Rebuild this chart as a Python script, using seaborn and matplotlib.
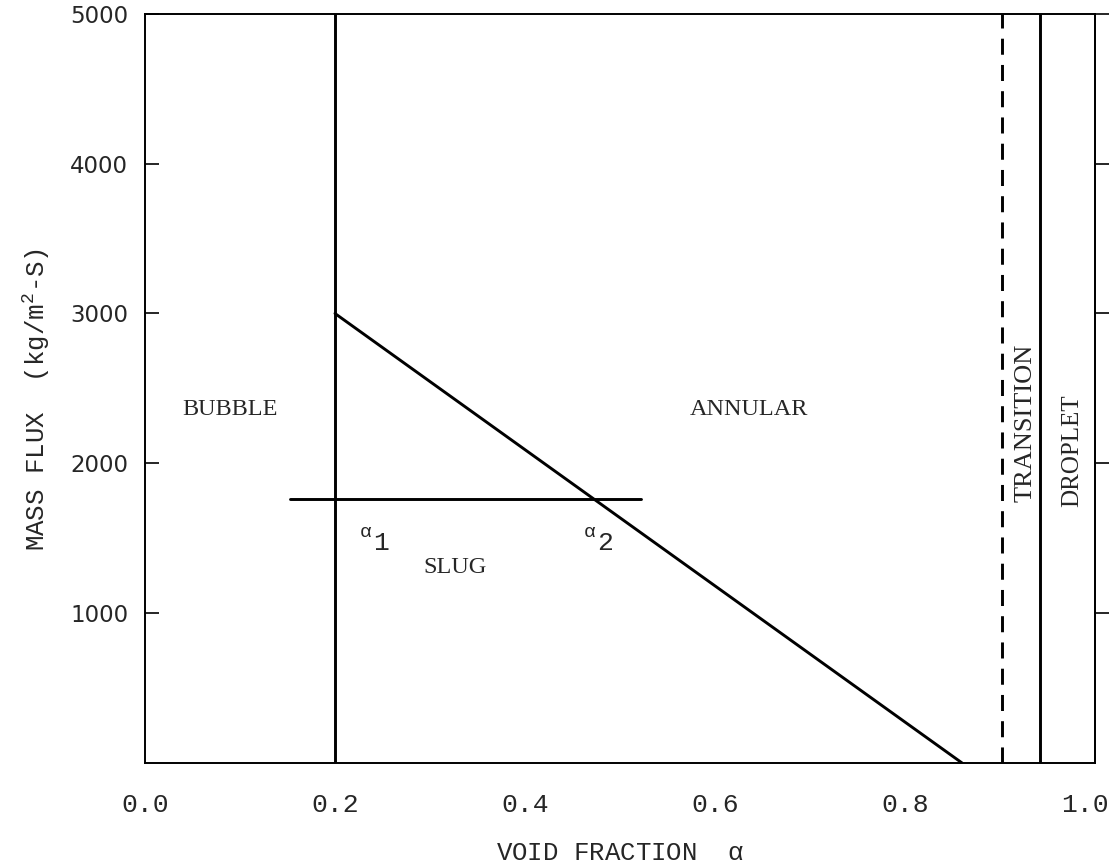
import pandas as pd
import matplotlib
matplotlib.use("Agg")
import matplotlib.pyplot as plt
import matplotlib.transforms as mtransforms
import seaborn as sns

# flow regime map boundaries
slug_annular_x = [0.20, 0.86]
slug_annular_y = [3000, 0]
alpha_line_x = [0.153, 0.522]
alpha_line_y = [1760, 1760]
bubble_slug_x = 0.20
transition_x = 0.902
droplet_x = 0.942

x_ticks = [0.0, 0.2, 0.4, 0.6, 0.8, 1.0]
x_ticklabels = ["0.0", "0.2", "0.4", "0.6", "0.8", "1.0"]
y_ticks = [1000, 2000, 3000, 4000, 5000]
y_ticklabels = ["1000", "2000", "3000", "4000", "5000"]

regions = ["BUBBLE", "ANNULAR", "SLUG"]
region_x = [0.090, 0.636, 0.326]
region_y = [2360, 2360, 1307]

sns.set_style("white")
plt.rcParams["mathtext.fontset"] = "custom"
plt.rcParams["mathtext.rm"] = "Liberation Mono"
plt.rcParams["mathtext.it"] = "Liberation Mono"

fig, ax = plt.subplots(figsize=(11.11, 8.65), dpi=100)
fig.subplots_adjust(left=0.1305, right=0.9856, top=0.984, bottom=0.118)

lw = 2.1
df_diag = pd.DataFrame({"x": slug_annular_x, "y": slug_annular_y})
sns.lineplot(data=df_diag, x="x", y="y", ax=ax, color="black", lw=lw)
df_h = pd.DataFrame({"x": alpha_line_x, "y": alpha_line_y})
sns.lineplot(data=df_h, x="x", y="y", ax=ax, color="black", lw=lw)

ax.axvline(bubble_slug_x, color="black", lw=lw)
ax.axvline(transition_x, color="black", lw=lw, dashes=(5.5, 3.5))
ax.axvline(droplet_x, color="black", lw=lw)

ax.set_xlim(0, 1)
ax.set_ylim(0, 5000)

for s in ax.spines.values():
    s.set_color("black")
    s.set_linewidth(1.4)

# ticks
ax.set_xticks(x_ticks)
ax.set_xticklabels(x_ticklabels, family="Liberation Mono", fontsize=19)
ax.set_xticks([0.8], minor=True)
ax.tick_params(axis="x", which="major", length=0, pad=22)
ax.tick_params(axis="x", which="minor", direction="in", length=8, width=1.3, bottom=True)
last = ax.get_xticklabels()[-1]
last.set_transform(last.get_transform() + mtransforms.ScaledTranslation(-0.1, 0, fig.dpi_scale_trans))

ax.set_yticks(y_ticks)
ax.set_yticklabels(y_ticklabels, family="DejaVu Sans", fontsize=16.5)
ax.tick_params(axis="y", direction="in", length=10, width=1.4, left=True, pad=12)

sec = ax.secondary_yaxis("right")
sec.set_yticks(y_ticks)
sec.tick_params(direction="out", length=10, width=1.4, labelright=False)
sec.spines["right"].set_linewidth(1.4)

ax.set_xlabel(r"VOID FRACTION  $\alpha$", family="Liberation Mono", fontsize=18.5, labelpad=17)
ax.set_ylabel(r"MASS FLUX  (kg/m$^{2}$-S)", family="Liberation Mono", fontsize=18.5)
ax.yaxis.set_label_coords(-0.098, 0.485)

# region labels
for name, rx, ry in zip(regions, region_x, region_y):
    ax.text(rx, ry, name, family="Liberation Serif", fontsize=17.5, ha="center", va="center")
ax.text(0.927, 2267, "TRANSITION", family="Liberation Serif", fontsize=19,
        rotation=90, ha="center", va="center")
ax.text(0.976, 2087, "DROPLET", family="Liberation Serif", fontsize=18,
        rotation=90, ha="center", va="center")

# alpha_1, alpha_2 markers
for a_x, sub in [(0.232, "1"), (0.468, "2")]:
    ax.text(a_x, 1547, r"$\alpha$", fontsize=14, ha="center", va="center")
    ax.text(a_x + 0.016, 1467, sub, family="Liberation Mono", fontsize=19, ha="center", va="center")

fig.savefig("out.png", dpi=100)
